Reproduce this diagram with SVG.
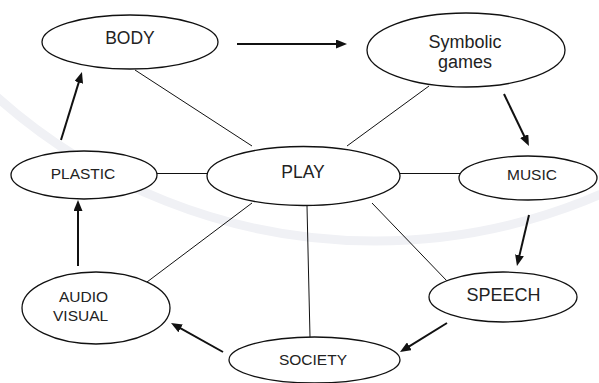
<svg xmlns="http://www.w3.org/2000/svg" width="599" height="383" viewBox="0 0 599 383">
  <defs>
    <marker id="ah" markerUnits="userSpaceOnUse" markerWidth="11" markerHeight="9" refX="3" refY="4.5" orient="auto">
      <path d="M0,0 L11,4.5 L0,9 z" fill="#111"/>
    </marker>
    <style>
      .node ellipse { fill: #fff; stroke: #111; stroke-width: 1.3; }
      .node text { font-family: "Liberation Sans", Arial, sans-serif; fill: #222; text-anchor: middle; }
      .big { font-size: 17.5px; }
      .small { font-size: 15.5px; }
      .link { stroke: #111; stroke-width: 1; fill: none; }
      .arrow { stroke: #111; stroke-width: 2; fill: none; marker-end: url(#ah); }
      .wm { fill: none; stroke: #f0f1f5; stroke-width: 9; }
    </style>
  </defs>
  <rect width="599" height="383" fill="#fff"/>
  <circle class="wm" cx="375" cy="-327" r="568"/>

  <g id="connectors">
    <line class="link" x1="135" y1="70" x2="252" y2="146"/>
    <line class="link" x1="429" y1="86" x2="347" y2="146"/>
    <line class="link" x1="157" y1="173.5" x2="207" y2="173.5"/>
    <line class="link" x1="400" y1="173.5" x2="460" y2="173.5"/>
    <line class="link" x1="252" y1="203" x2="147" y2="282"/>
    <line class="link" x1="307" y1="206" x2="310" y2="337"/>
    <line class="link" x1="372" y1="203" x2="447" y2="281"/>

    <line class="arrow" x1="237" y1="44" x2="339" y2="44"/>
    <line class="arrow" x1="504" y1="94" x2="525.5" y2="138.8"/>
    <line class="arrow" x1="529" y1="215" x2="518.8" y2="258.2"/>
    <line class="arrow" x1="447" y1="323" x2="406.8" y2="347.8"/>
    <line class="arrow" x1="223" y1="352" x2="178" y2="326.9"/>
    <line class="arrow" x1="78" y1="266" x2="78" y2="208"/>
    <line class="arrow" x1="61" y1="140" x2="79.6" y2="79.6"/>
  </g>

  <g id="body" class="node">
    <ellipse cx="130" cy="42" rx="88" ry="27"/>
    <text class="big" x="130" y="44">BODY</text>
  </g>
  <g id="symbolic-games" class="node">
    <ellipse cx="466" cy="50" rx="99" ry="37"/>
    <text style="font-size:18px" x="465" y="48">Symbolic</text>
    <text style="font-size:18px" x="465" y="68">games</text>
  </g>
  <g id="plastic" class="node">
    <ellipse cx="84" cy="175" rx="73" ry="24"/>
    <text class="small" x="83" y="178.5">PLASTIC</text>
  </g>
  <g id="play" class="node">
    <ellipse cx="303.5" cy="176" rx="96.5" ry="29.5"/>
    <text class="big" x="303" y="177.5">PLAY</text>
  </g>
  <g id="music" class="node">
    <ellipse cx="528" cy="178" rx="69" ry="22"/>
    <text class="small" x="532" y="179.5">MUSIC</text>
  </g>
  <g id="audio-visual" class="node">
    <ellipse cx="96" cy="308" rx="74" ry="36"/>
    <text class="small" x="59" y="302" style="text-anchor:start">AUDIO</text>
    <text class="small" x="53" y="321" style="text-anchor:start">VISUAL</text>
  </g>
  <g id="speech" class="node">
    <ellipse cx="503" cy="297" rx="74" ry="25"/>
    <text style="font-size:18px" x="503.5" y="301">SPEECH</text>
  </g>
  <g id="society" class="node">
    <ellipse cx="314.5" cy="360" rx="85.5" ry="23"/>
    <text class="small" x="313" y="365">SOCIETY</text>
  </g>
</svg>
